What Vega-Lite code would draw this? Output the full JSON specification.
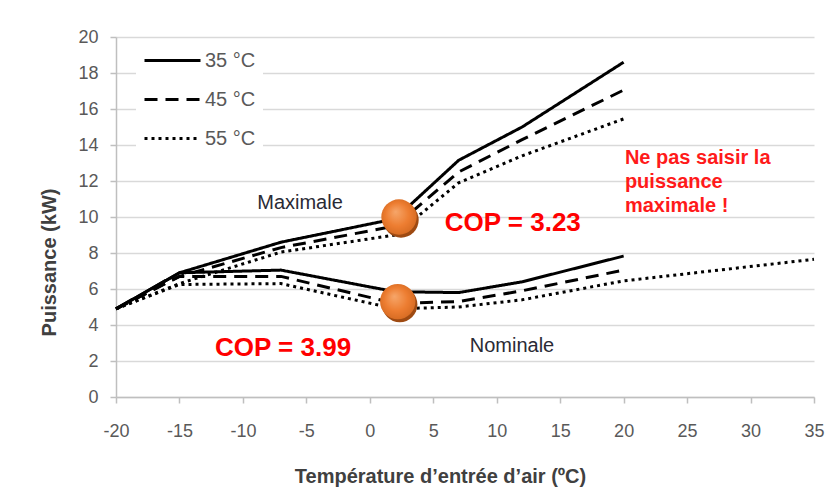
{
  "$schema": "https://vega.github.io/schema/vega-lite/v6.json",
  "width": 698,
  "height": 360,
  "autosize": {"type": "none"},
  "padding": {"left": 116, "top": 37, "right": 11, "bottom": 103},
  "background": "white",
  "config": {"view": {"stroke": null}, "font": "Liberation Sans"},
  "encoding": {
    "x": {
      "field": "t", "type": "quantitative",
      "scale": {"domain": [-20, 35], "nice": false},
      "axis": {
        "values": [-20, -15, -10, -5, 0, 5, 10, 15, 20, 25, 30, 35],
        "labelExpr": "replace(datum.label, '−', '-')",
        "labelFlush": false, "labelOverlap": false,
        "grid": false,
        "domainColor": "#bfbfbf", "domainWidth": 1.5,
        "tickColor": "#bfbfbf", "tickWidth": 1.5, "tickSize": 6,
        "labelFontSize": 18, "labelColor": "#595959", "labelPadding": 19,
        "title": "Température d’entrée d’air (ºC)",
        "titleFontSize": 20, "titleFontWeight": "bold", "titleColor": "#404040",
        "titleX": 324, "titleY": 85, "titleBaseline": "alphabetic", "titleAlign": "center"
      }
    },
    "y": {
      "field": "p", "type": "quantitative",
      "scale": {"domain": [0, 20], "nice": false},
      "axis": {
        "values": [0, 2, 4, 6, 8, 10, 12, 14, 16, 18, 20],
        "labelOverlap": false, "labelFlush": false,
        "grid": true, "gridColor": "#d9d9d9", "gridWidth": 1.5,
        "domainColor": "#bfbfbf", "domainWidth": 1.5,
        "tickColor": "#bfbfbf", "tickWidth": 1.5, "tickSize": 6,
        "labelFontSize": 18, "labelColor": "#595959", "labelPadding": 12,
        "title": "Puissance (kW)",
        "titleFontSize": 20, "titleFontWeight": "bold", "titleColor": "#404040",
        "titleX": -67, "titleY": 225, "titleBaseline": "middle", "titleAlign": "center", "titleAngle": -90
      }
    }
  },
  "layer": [
    {
      "data": {"values": [
        {"type": "Maximale", "series": "35 °C", "t": -20, "p": 4.9},
        {"type": "Maximale", "series": "35 °C", "t": -15, "p": 6.9},
        {"type": "Maximale", "series": "35 °C", "t": -7, "p": 8.6},
        {"type": "Maximale", "series": "35 °C", "t": 2, "p": 9.9},
        {"type": "Maximale", "series": "35 °C", "t": 7, "p": 13.15},
        {"type": "Maximale", "series": "35 °C", "t": 12, "p": 15.0},
        {"type": "Maximale", "series": "35 °C", "t": 20, "p": 18.6},
        {"type": "Maximale", "series": "45 °C", "t": -20, "p": 4.9},
        {"type": "Maximale", "series": "45 °C", "t": -15, "p": 6.7},
        {"type": "Maximale", "series": "45 °C", "t": -7, "p": 8.3},
        {"type": "Maximale", "series": "45 °C", "t": 2, "p": 9.5},
        {"type": "Maximale", "series": "45 °C", "t": 7, "p": 12.5},
        {"type": "Maximale", "series": "45 °C", "t": 12, "p": 14.3},
        {"type": "Maximale", "series": "45 °C", "t": 20, "p": 17.05},
        {"type": "Maximale", "series": "55 °C", "t": -20, "p": 4.9},
        {"type": "Maximale", "series": "55 °C", "t": -15, "p": 6.3},
        {"type": "Maximale", "series": "55 °C", "t": -7, "p": 8.05},
        {"type": "Maximale", "series": "55 °C", "t": 2, "p": 9.0},
        {"type": "Maximale", "series": "55 °C", "t": 7, "p": 11.9},
        {"type": "Maximale", "series": "55 °C", "t": 12, "p": 13.4},
        {"type": "Maximale", "series": "55 °C", "t": 20, "p": 15.45},
        {"type": "Nominale", "series": "35 °C", "t": -20, "p": 4.9},
        {"type": "Nominale", "series": "35 °C", "t": -15, "p": 6.9},
        {"type": "Nominale", "series": "35 °C", "t": -7, "p": 7.05},
        {"type": "Nominale", "series": "35 °C", "t": 2, "p": 5.85},
        {"type": "Nominale", "series": "35 °C", "t": 7, "p": 5.8},
        {"type": "Nominale", "series": "35 °C", "t": 12, "p": 6.4},
        {"type": "Nominale", "series": "35 °C", "t": 20, "p": 7.83},
        {"type": "Nominale", "series": "45 °C", "t": -20, "p": 4.9},
        {"type": "Nominale", "series": "45 °C", "t": -15, "p": 6.7},
        {"type": "Nominale", "series": "45 °C", "t": -7, "p": 6.7},
        {"type": "Nominale", "series": "45 °C", "t": 2, "p": 5.2},
        {"type": "Nominale", "series": "45 °C", "t": 7, "p": 5.3},
        {"type": "Nominale", "series": "45 °C", "t": 12, "p": 5.9},
        {"type": "Nominale", "series": "45 °C", "t": 20, "p": 7.05},
        {"type": "Nominale", "series": "55 °C", "t": -20, "p": 4.9},
        {"type": "Nominale", "series": "55 °C", "t": -15, "p": 6.25},
        {"type": "Nominale", "series": "55 °C", "t": -7, "p": 6.3},
        {"type": "Nominale", "series": "55 °C", "t": 2, "p": 4.9},
        {"type": "Nominale", "series": "55 °C", "t": 7, "p": 5.0},
        {"type": "Nominale", "series": "55 °C", "t": 12, "p": 5.4},
        {"type": "Nominale", "series": "55 °C", "t": 20, "p": 6.45},
        {"type": "Nominale", "series": "55 °C", "t": 35, "p": 7.65}
      ]},
      "mark": {"type": "line", "strokeWidth": 3, "color": "black", "strokeCap": "butt"},
      "encoding": {
        "detail": {"field": "type"},
        "strokeDash": {
          "field": "series", "type": "nominal",
          "scale": {"domain": ["35 °C", "45 °C", "55 °C"], "range": [[1, 0], [13, 8], [3, 4]]},
          "legend": {
            "title": null, "orient": "none", "legendX": 20, "legendY": 5,
            "fillColor": "white", "padding": 7,
            "symbolType": "M-2.8,0H2.8", "symbolSize": 400, "symbolOffset": 18,
            "symbolStrokeWidth": 3, "symbolStrokeColor": "black",
            "rowPadding": 17,
            "labelFontSize": 20, "labelColor": "#595959", "labelOffset": 21
          }
        }
      }
    },
    {
      "data": {"values": [{"t": 2.3, "p": 10.0}, {"t": 2.2, "p": 5.3}]},
      "mark": {"type": "point", "filled": true, "size": 1250, "opacity": 1, "color": "#9E4A12", "xOffset": 2, "yOffset": 3}
    },
    {
      "data": {"values": [{"t": 2.3, "p": 10.0}, {"t": 2.2, "p": 5.3}]},
      "mark": {"type": "point", "filled": true, "size": 1250, "opacity": 1,
        "fill": {"gradient": "radial", "x1": 0.4, "y1": 0.35, "r1": 0, "x2": 0.5, "y2": 0.5, "r2": 0.6,
          "stops": [{"offset": 0, "color": "#F6A66A"}, {"offset": 0.55, "color": "#ED7D31"}, {"offset": 1, "color": "#D0661E"}]}}
    },
    {
      "data": {"values": [{"t": -5.5, "p": 10.8, "label": "Maximale"}, {"t": 11.2, "p": 2.83, "label": "Nominale"}]},
      "mark": {"type": "text", "fontSize": 20, "color": "#2a2a35", "align": "center", "baseline": "middle"},
      "encoding": {"text": {"field": "label"}}
    },
    {
      "data": {"values": [{"t": 5.9, "p": 9.67, "label": "COP = 3.23"}, {"t": -12.2, "p": 2.72, "label": "COP = 3.99"}]},
      "mark": {"type": "text", "fontSize": 26, "fontWeight": "bold", "color": "#FF0000", "align": "left", "baseline": "middle"},
      "encoding": {"text": {"field": "label"}}
    },
    {
      "data": {"values": [{"t": 20.1, "p": 13.3, "label": "Ne pas saisir la\npuissance\nmaximale !"}]},
      "mark": {"type": "text", "fontSize": 20, "fontWeight": "bold", "color": "#FF1A1A", "align": "left", "baseline": "middle", "lineBreak": "\n", "lineHeight": 24},
      "encoding": {"text": {"field": "label"}}
    }
  ]
}
